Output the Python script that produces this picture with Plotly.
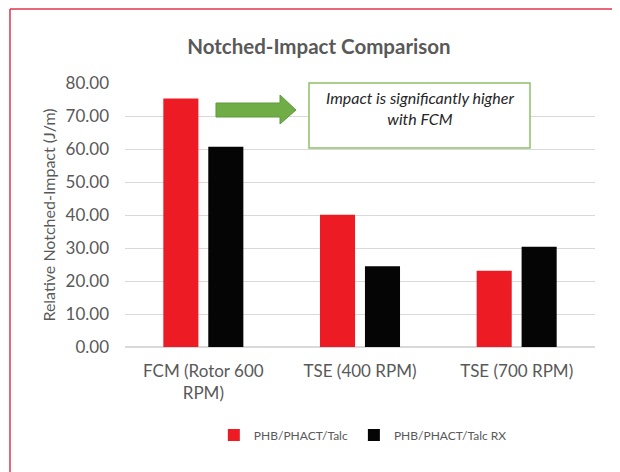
import plotly.graph_objects as go

categories = ["FCM (Rotor 600<br>RPM)", "TSE (400 RPM)", "TSE (700 RPM)"]
series_names = ["PHB/PHACT/Talc", "PHB/PHACT/Talc RX"]
talc = [75.3, 40.1, 23.1]
talc_rx = [60.7, 24.5, 30.4]
y_ticks = [0, 10, 20, 30, 40, 50, 60, 70, 80]

FONT = "Lato, Carlito, 'Open Sans', sans-serif"
GRAY = "#595959"

fig = go.Figure()
fig.add_trace(go.Bar(x=categories, y=talc, name=series_names[0], marker_color="#ED1C24",
                     marker_line_width=0, legend="legend", showlegend=True))
fig.add_trace(go.Bar(x=categories, y=talc_rx, name=series_names[1], marker_color="#050505",
                     marker_line_width=0, legend="legend2", showlegend=True))

# Green arrow and annotation box (paper coordinates of the plot area)
arrow_path = ("M 0.1936 0.9242 L 0.3298 0.9242 L 0.3298 0.9545 L 0.3638 0.8977 "
              "L 0.3298 0.8447 L 0.3298 0.8712 L 0.1936 0.8712 Z")
shapes = [
    dict(type="path", xref="paper", yref="paper", path=arrow_path,
         fillcolor="#70AD47", line=dict(color="#5E9A3A", width=1)),
    dict(type="rect", xref="paper", yref="paper", x0=0.3915, x1=0.8617, y0=0.7538, y1=1.0,
         fillcolor="white", line=dict(color="#8CC068", width=1.5)),
    # red frame (slide border)
    dict(type="line", xref="paper", yref="paper", x0=-0.2447, x1=-0.2447, y0=-0.48, y1=1.2803,
         line=dict(color="#E0344C", width=1.5)),
    dict(type="line", xref="paper", yref="paper", x0=-0.2447, x1=1.06, y0=1.2803, y1=1.2803,
         line=dict(color="#E0344C", width=1.5)),
]

annotations = [
    dict(xref="paper", yref="paper", x=0.6266, y=0.906, xanchor="center", yanchor="middle",
         text="<i>Impact is significantly higher<br>with FCM</i>", showarrow=False,
         font=dict(family=FONT, size=16, color="#262626"), align="center"),
]

legend_common = dict(orientation="h", xanchor="left", y=-0.333, yanchor="middle",
                     font=dict(family=FONT, size=12, color=GRAY), itemwidth=30,
                     bgcolor="rgba(0,0,0,0)", visible=True)

fig.update_layout(
    width=612, height=464,
    margin=dict(l=117, r=25, t=75, b=125),
    paper_bgcolor="white", plot_bgcolor="white",
    showlegend=True,
    barmode="group", bargap=0.426, bargroupgap=0.22,
    title=dict(text="<b>Notched-Impact Comparison</b>", x=0.508, xanchor="center",
               y=0.916, yanchor="middle", font=dict(family=FONT, size=20.5, color=GRAY)),
    font=dict(family=FONT, color=GRAY),
    shapes=shapes, annotations=annotations,
    legend=dict(x=0.189, **legend_common),
    legend2=dict(x=0.487, **legend_common),
)
fig.update_yaxes(range=[0, 80], tickvals=y_ticks, ticktext=[f"{v:.2f}" for v in y_ticks],
                 showgrid=True, gridcolor="#D9D9D9", gridwidth=1, zeroline=True,
                 zerolinecolor="#D9D9D9", ticks="", ticklabelstandoff=15,
                 tickfont=dict(family=FONT, size=17, color=GRAY),
                 title=dict(text="Relative Notched-Impact (J/m)", standoff=5,
                            font=dict(family=FONT, size=16, color=GRAY)))
fig.update_xaxes(tickfont=dict(family=FONT, size=17, color=GRAY), ticks="",
                 showline=False, ticklabelstandoff=12)

fig.write_html("out.html")
